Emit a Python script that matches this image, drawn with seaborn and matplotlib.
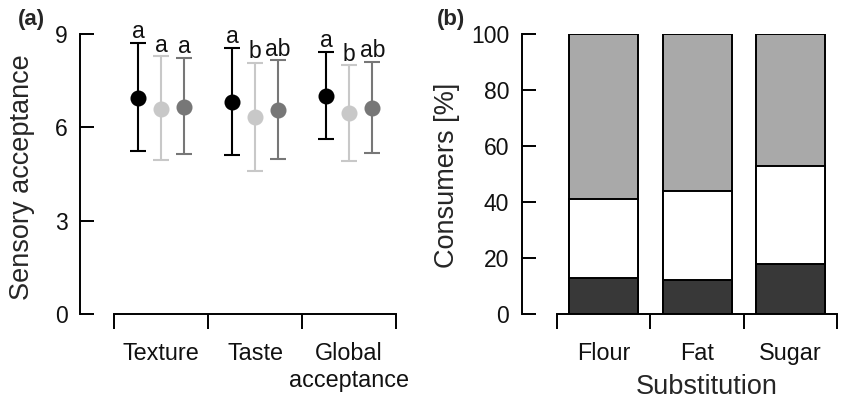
import numpy as np
import pandas as pd
import matplotlib
matplotlib.use("Agg")
import matplotlib.pyplot as plt
import seaborn as sns

# ---------------- data ----------------
attributes = ["Texture", "Taste", "Global\nacceptance"]
samples = ["Sample 1", "Sample 2", "Sample 3"]
sample_colors = ["#000000", "#c8c8c8", "#777777"]

mean_s1 = [6.95, 6.82, 7.01]
mean_s2 = [6.60, 6.32, 6.45]
mean_s3 = [6.65, 6.57, 6.62]
low_s1 = [5.23, 5.10, 5.64]
low_s2 = [4.95, 4.61, 4.92]
low_s3 = [5.14, 4.97, 5.18]
high_s1 = [8.70, 8.55, 8.41]
high_s2 = [8.28, 8.07, 7.99]
high_s3 = [8.22, 8.15, 8.09]
letters_s1 = ["a", "a", "a"]
letters_s2 = ["a", "b", "b"]
letters_s3 = ["a", "ab", "ab"]

substitutions = ["Flour", "Fat", "Sugar"]
pct_dark = [13, 12, 18]
pct_white = [28, 32, 35]
pct_gray = [59, 56, 47]
bar_colors = ["#383838", "#ffffff", "#a9a9a9"]

# ---------------- style ----------------
sns.set_theme(style="white")
plt.rcParams["font.family"] = ["Liberation Sans", "DejaVu Sans"]

W, H = 845, 400
fig = plt.figure(figsize=(W / 100, H / 100), dpi=100)

axA = fig.add_axes([80 / W, 86 / H, 320 / W, 280 / H])
axB = fig.add_axes([521.7 / W, 86 / H, 320 / W, 280 / H])

# ---------------- panel (a) ----------------
rows = []
means = [mean_s1, mean_s2, mean_s3]
lows = [low_s1, low_s2, low_s3]
highs = [high_s1, high_s2, high_s3]
letters = [letters_s1, letters_s2, letters_s3]
for s, m, lo, hi, lt in zip(samples, means, lows, highs, letters):
    for a, mv, lv, hv, t in zip(attributes, m, lo, hi, lt):
        rows.append(dict(attribute=a, sample=s, mean=mv, low=lv, high=hv, letter=t))
dfA = pd.DataFrame(rows)

dodge = 0.49
offsets = np.linspace(-dodge / 2, dodge / 2, len(samples))
xbase = np.arange(len(attributes))
for i, (s, c) in enumerate(zip(samples, sample_colors)):
    sub = dfA[dfA["sample"] == s]
    xs = xbase + offsets[i]
    axA.errorbar(xs, sub["mean"], yerr=[sub["mean"] - sub["low"], sub["high"] - sub["mean"]],
                 fmt="none", ecolor=c, elinewidth=1.5, capsize=6, capthick=1.5, zorder=2)
    for x, hv, t in zip(xs, sub["high"], sub["letter"]):
        axA.annotate(t, (x, hv), xytext=(0, 3.5), textcoords="offset points",
                     ha="center", va="baseline", fontsize=16.5, color="#111111")

sns.pointplot(data=dfA, x="attribute", y="mean", hue="sample", order=attributes,
              hue_order=samples, palette=sample_colors, dodge=dodge, errorbar=None,
              linestyle="none", markers="o", markersize=9.5, legend=False, ax=axA, zorder=3)

axA.set_xlim(-0.862, 2.54)
axA.set_ylim(0, 9)
axA.set_yticks([0, 3, 6, 9])
axA.set_xlabel("")
axA.set_ylabel("Sensory acceptance", fontsize=19.5)
axA.yaxis.set_label_coords(-45 / 320, 0.49)

# ---------------- panel (b) ----------------
dfB = pd.DataFrame(dict(substitution=substitutions, dark=pct_dark, white=pct_white, gray=pct_gray))
dfB["cum_dark"] = dfB["dark"]
dfB["cum_white"] = dfB["dark"] + dfB["white"]
dfB["cum_gray"] = dfB["cum_white"] + dfB["gray"]

for col, c in [("cum_gray", bar_colors[2]), ("cum_white", bar_colors[1]), ("cum_dark", bar_colors[0])]:
    sns.barplot(data=dfB, x="substitution", y=col, order=substitutions, color=c,
                edgecolor="black", linewidth=1.4, width=0.74, saturation=1, ax=axB)

axB.set_xlim(-0.879, 2.55)
axB.set_ylim(0, 100)
axB.set_yticks([0, 20, 40, 60, 80, 100])
axB.set_ylabel("Consumers [%]", fontsize=19.5)
axB.yaxis.set_label_coords(-62 / 320, 0.495)
axB.set_xlabel("Substitution", fontsize=19.5)
axB.xaxis.set_label_coords(185 / 320, -60 / 280)

# ---------------- common axis styling ----------------
for ax in (axA, axB):
    for sp in ("top", "right"):
        ax.spines[sp].set_visible(False)
    ax.spines["left"].set_linewidth(1.4)
    ax.spines["bottom"].set_linewidth(1.4)
    ax.spines["left"].set_color("black")
    ax.spines["bottom"].set_color("black")
    ax.spines["bottom"].set_bounds(-0.5, 2.5)
    ax.set_xticks([-0.5, 0.5, 1.5, 2.5], minor=True)
    ax.tick_params(axis="x", which="minor", direction="out", length=11, width=1.4,
                   color="black", bottom=True)
    ax.tick_params(axis="x", which="major", length=0, pad=20, labelsize=16.8, colors="#111111")
    ax.tick_params(axis="y", which="major", direction="in", length=10, width=1.4,
                   pad=9, labelsize=16.5, color="black", labelcolor="#111111", left=True)
    ax.patch.set_alpha(0)

axA.spines["left"].set_bounds(0, 9)
axB.spines["left"].set_bounds(0, 100)
axA.set_xticks(range(len(attributes)))
axA.set_xticklabels(attributes, linespacing=1.25)

fig.text(31 / W, 1 - 20 / H, "(a)", fontsize=16, fontweight="bold", ha="center", va="center")
fig.text((420 + 31) / W, 1 - 20 / H, "(b)", fontsize=16, fontweight="bold", ha="center", va="center")

fig.savefig("out.png", dpi=100)
